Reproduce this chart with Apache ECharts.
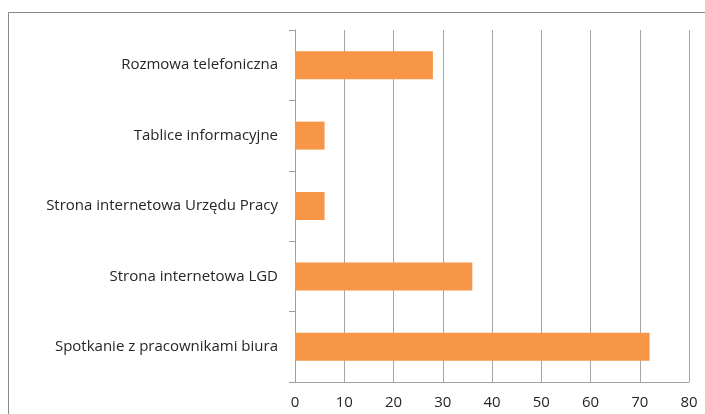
<!DOCTYPE html>
<html><head><meta charset="utf-8">
<script src="https://cdn.jsdelivr.net/npm/echarts@6/dist/echarts.min.js"></script>
<style>html,body{margin:0;padding:0;background:#fff;}#c{width:705px;height:414px;}</style>
</head><body><div id="c"></div>
<script>
const categories = ["Rozmowa telefoniczna", "Tablice informacyjne", "Strona internetowa Urzędu Pracy", "Strona internetowa LGD", "Spotkanie z pracownikami biura"];
const values = [28, 6, 6, 36, 72];
const xTicks = [0, 10, 20, 30, 40, 50, 60, 70, 80];

const chart = echarts.init(document.getElementById('c'), null, {renderer: 'canvas'});
chart.setOption({
  animation: false,
  graphic: [{
    type: 'rect', shape: {x: 8.5, y: 12.5, width: 760, height: 460},
    style: {fill: 'none', stroke: '#888', lineWidth: 1}, silent: true, z: 100
  }],
  grid: {left: 295, right: 16, top: 30, bottom: 32, containLabel: false},
  xAxis: {
    type: 'value', min: xTicks[0], max: xTicks[xTicks.length - 1], interval: 10,
    axisLine: {show: true, lineStyle: {color: '#a0a0a0', width: 1}},
    axisTick: {show: false},
    splitLine: {show: true, lineStyle: {color: '#a6a6a6', width: 1}},
    axisLabel: {color: '#262626', fontFamily: 'Open Sans', fontSize: 15, margin: 13}
  },
  yAxis: {
    type: 'category', data: categories, inverse: true,
    axisLine: {show: true, lineStyle: {color: '#a0a0a0', width: 1}},
    axisTick: {show: true, length: 6, alignWithLabel: false, lineStyle: {color: '#a0a0a0'}},
    axisLabel: {color: '#262626', fontFamily: 'Open Sans', fontSize: 15, margin: 17}
  },
  series: [{
    type: 'bar', data: values, barWidth: 28,
    itemStyle: {color: '#F79646'}
  }]
});
</script></body></html>
